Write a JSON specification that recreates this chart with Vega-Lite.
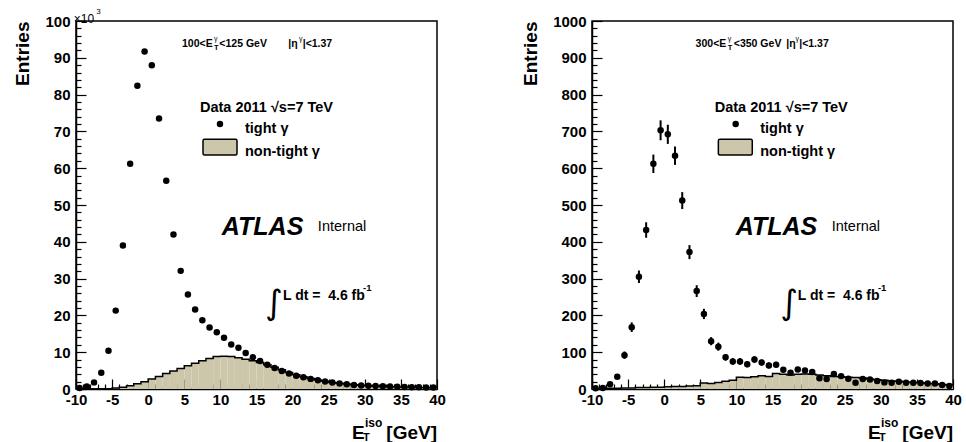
{
"$schema": "https://vega.github.io/schema/vega-lite/v6.json",
"padding": {"left": 13, "top": 7, "right": 5, "bottom": 0},
"spacing": 73,
"config": {
  "font": "Liberation Sans",
  "view": {"stroke": "black", "strokeWidth": 1.5},
  "axis": {"grid": false, "labelColor": "black", "tickColor": "black", "domainColor": "black", "titleColor": "black", "labelFlush": false, "labelOverlap": false, "labelBound": false, "domainWidth": 1.5, "tickWidth": 1.2},
  "text": {"color": "black"}
},
"datasets": {
  "left": [
    {"x": -9.5, "lo": -10, "hi": -9, "tight": 0.3, "nontight": 0.0},
    {"x": -8.5, "lo": -9, "hi": -8, "tight": 0.7, "nontight": 0.0},
    {"x": -7.5, "lo": -8, "hi": -7, "tight": 1.8, "nontight": 0.02},
    {"x": -6.5, "lo": -7, "hi": -6, "tight": 4.4, "nontight": 0.05},
    {"x": -5.5, "lo": -6, "hi": -5, "tight": 10.4, "nontight": 0.1},
    {"x": -4.5, "lo": -5, "hi": -4, "tight": 21.3, "nontight": 0.25},
    {"x": -3.5, "lo": -4, "hi": -3, "tight": 39.0, "nontight": 0.5},
    {"x": -2.5, "lo": -3, "hi": -2, "tight": 61.2, "nontight": 0.9},
    {"x": -1.5, "lo": -2, "hi": -1, "tight": 82.4, "nontight": 1.4},
    {"x": -0.5, "lo": -1, "hi": 0, "tight": 91.7, "nontight": 2.0},
    {"x": 0.5, "lo": 0, "hi": 1, "tight": 88.0, "nontight": 2.7},
    {"x": 1.5, "lo": 1, "hi": 2, "tight": 73.5, "nontight": 3.4},
    {"x": 2.5, "lo": 2, "hi": 3, "tight": 56.6, "nontight": 4.2},
    {"x": 3.5, "lo": 3, "hi": 4, "tight": 42.0, "nontight": 4.9},
    {"x": 4.5, "lo": 4, "hi": 5, "tight": 32.1, "nontight": 5.6},
    {"x": 5.5, "lo": 5, "hi": 6, "tight": 25.7, "nontight": 6.3},
    {"x": 6.5, "lo": 6, "hi": 7, "tight": 21.6, "nontight": 7.0},
    {"x": 7.5, "lo": 7, "hi": 8, "tight": 18.7, "nontight": 7.7},
    {"x": 8.5, "lo": 8, "hi": 9, "tight": 16.7, "nontight": 8.3},
    {"x": 9.5, "lo": 9, "hi": 10, "tight": 15.4, "nontight": 8.8},
    {"x": 10.5, "lo": 10, "hi": 11, "tight": 13.9, "nontight": 8.9},
    {"x": 11.5, "lo": 11, "hi": 12, "tight": 12.1, "nontight": 8.8},
    {"x": 12.5, "lo": 12, "hi": 13, "tight": 11.2, "nontight": 8.5},
    {"x": 13.5, "lo": 13, "hi": 14, "tight": 9.8, "nontight": 8.1},
    {"x": 14.5, "lo": 14, "hi": 15, "tight": 8.6, "nontight": 7.7},
    {"x": 15.5, "lo": 15, "hi": 16, "tight": 7.6, "nontight": 7.2},
    {"x": 16.5, "lo": 16, "hi": 17, "tight": 6.6, "nontight": 6.6},
    {"x": 17.5, "lo": 17, "hi": 18, "tight": 5.7, "nontight": 5.9},
    {"x": 18.5, "lo": 18, "hi": 19, "tight": 4.9, "nontight": 5.2},
    {"x": 19.5, "lo": 19, "hi": 20, "tight": 4.2, "nontight": 4.5},
    {"x": 20.5, "lo": 20, "hi": 21, "tight": 3.6, "nontight": 3.9},
    {"x": 21.5, "lo": 21, "hi": 22, "tight": 3.2, "nontight": 3.35},
    {"x": 22.5, "lo": 22, "hi": 23, "tight": 2.75, "nontight": 2.85},
    {"x": 23.5, "lo": 23, "hi": 24, "tight": 2.4, "nontight": 2.45},
    {"x": 24.5, "lo": 24, "hi": 25, "tight": 2.05, "nontight": 2.1},
    {"x": 25.5, "lo": 25, "hi": 26, "tight": 1.75, "nontight": 1.8},
    {"x": 26.5, "lo": 26, "hi": 27, "tight": 1.5, "nontight": 1.55},
    {"x": 27.5, "lo": 27, "hi": 28, "tight": 1.3, "nontight": 1.33},
    {"x": 28.5, "lo": 28, "hi": 29, "tight": 1.1, "nontight": 1.15},
    {"x": 29.5, "lo": 29, "hi": 30, "tight": 0.98, "nontight": 1.0},
    {"x": 30.5, "lo": 30, "hi": 31, "tight": 0.88, "nontight": 0.88},
    {"x": 31.5, "lo": 31, "hi": 32, "tight": 0.8, "nontight": 0.78},
    {"x": 32.5, "lo": 32, "hi": 33, "tight": 0.72, "nontight": 0.69},
    {"x": 33.5, "lo": 33, "hi": 34, "tight": 0.65, "nontight": 0.62},
    {"x": 34.5, "lo": 34, "hi": 35, "tight": 0.6, "nontight": 0.56},
    {"x": 35.5, "lo": 35, "hi": 36, "tight": 0.55, "nontight": 0.5},
    {"x": 36.5, "lo": 36, "hi": 37, "tight": 0.5, "nontight": 0.46},
    {"x": 37.5, "lo": 37, "hi": 38, "tight": 0.46, "nontight": 0.42},
    {"x": 38.5, "lo": 38, "hi": 39, "tight": 0.43, "nontight": 0.39},
    {"x": 39.5, "lo": 39, "hi": 40, "tight": 0.4, "nontight": 0.36}
  ],
  "right": [
    {"x": -9.5, "lo": -10, "hi": -9, "tight": 2, "err": 1.5, "nontight": 1},
    {"x": -8.5, "lo": -9, "hi": -8, "tight": 3, "err": 2, "nontight": 1},
    {"x": -7.5, "lo": -8, "hi": -7, "tight": 13, "err": 4, "nontight": 2},
    {"x": -6.5, "lo": -7, "hi": -6, "tight": 33, "err": 6, "nontight": 2},
    {"x": -5.5, "lo": -6, "hi": -5, "tight": 92, "err": 10, "nontight": 3},
    {"x": -4.5, "lo": -5, "hi": -4, "tight": 168, "err": 13, "nontight": 3},
    {"x": -3.5, "lo": -4, "hi": -3, "tight": 305, "err": 17, "nontight": 4},
    {"x": -2.5, "lo": -3, "hi": -2, "tight": 432, "err": 21, "nontight": 4},
    {"x": -1.5, "lo": -2, "hi": -1, "tight": 612, "err": 25, "nontight": 5},
    {"x": -0.5, "lo": -1, "hi": 0, "tight": 703, "err": 27, "nontight": 5},
    {"x": 0.5, "lo": 0, "hi": 1, "tight": 692, "err": 26, "nontight": 6},
    {"x": 1.5, "lo": 1, "hi": 2, "tight": 634, "err": 25, "nontight": 7},
    {"x": 2.5, "lo": 2, "hi": 3, "tight": 512, "err": 23, "nontight": 7},
    {"x": 3.5, "lo": 3, "hi": 4, "tight": 372, "err": 19, "nontight": 8},
    {"x": 4.5, "lo": 4, "hi": 5, "tight": 266, "err": 16, "nontight": 9},
    {"x": 5.5, "lo": 5, "hi": 6, "tight": 204, "err": 14, "nontight": 16},
    {"x": 6.5, "lo": 6, "hi": 7, "tight": 130, "err": 11, "nontight": 15},
    {"x": 7.5, "lo": 7, "hi": 8, "tight": 115, "err": 11, "nontight": 18},
    {"x": 8.5, "lo": 8, "hi": 9, "tight": 86, "err": 9, "nontight": 21},
    {"x": 9.5, "lo": 9, "hi": 10, "tight": 75, "err": 9, "nontight": 24},
    {"x": 10.5, "lo": 10, "hi": 11, "tight": 75, "err": 9, "nontight": 32},
    {"x": 11.5, "lo": 11, "hi": 12, "tight": 67, "err": 8, "nontight": 31},
    {"x": 12.5, "lo": 12, "hi": 13, "tight": 80, "err": 9, "nontight": 33},
    {"x": 13.5, "lo": 13, "hi": 14, "tight": 72, "err": 8, "nontight": 36},
    {"x": 14.5, "lo": 14, "hi": 15, "tight": 64, "err": 8, "nontight": 34},
    {"x": 15.5, "lo": 15, "hi": 16, "tight": 66, "err": 8, "nontight": 42},
    {"x": 16.5, "lo": 16, "hi": 17, "tight": 52, "err": 7, "nontight": 40},
    {"x": 17.5, "lo": 17, "hi": 18, "tight": 44, "err": 7, "nontight": 38},
    {"x": 18.5, "lo": 18, "hi": 19, "tight": 53, "err": 7, "nontight": 40},
    {"x": 19.5, "lo": 19, "hi": 20, "tight": 50, "err": 7, "nontight": 41},
    {"x": 20.5, "lo": 20, "hi": 21, "tight": 46, "err": 7, "nontight": 40},
    {"x": 21.5, "lo": 21, "hi": 22, "tight": 29, "err": 5, "nontight": 38},
    {"x": 22.5, "lo": 22, "hi": 23, "tight": 27, "err": 5, "nontight": 36},
    {"x": 23.5, "lo": 23, "hi": 24, "tight": 41, "err": 6, "nontight": 34},
    {"x": 24.5, "lo": 24, "hi": 25, "tight": 35, "err": 6, "nontight": 33},
    {"x": 25.5, "lo": 25, "hi": 26, "tight": 28, "err": 5, "nontight": 32},
    {"x": 26.5, "lo": 26, "hi": 27, "tight": 17, "err": 4, "nontight": 31},
    {"x": 27.5, "lo": 27, "hi": 28, "tight": 27, "err": 5, "nontight": 30},
    {"x": 28.5, "lo": 28, "hi": 29, "tight": 26, "err": 5, "nontight": 27},
    {"x": 29.5, "lo": 29, "hi": 30, "tight": 22, "err": 5, "nontight": 25},
    {"x": 30.5, "lo": 30, "hi": 31, "tight": 18, "err": 4, "nontight": 24},
    {"x": 31.5, "lo": 31, "hi": 32, "tight": 17, "err": 4, "nontight": 22},
    {"x": 32.5, "lo": 32, "hi": 33, "tight": 20, "err": 4, "nontight": 21},
    {"x": 33.5, "lo": 33, "hi": 34, "tight": 17, "err": 4, "nontight": 19},
    {"x": 34.5, "lo": 34, "hi": 35, "tight": 17, "err": 4, "nontight": 18},
    {"x": 35.5, "lo": 35, "hi": 36, "tight": 16, "err": 4, "nontight": 17},
    {"x": 36.5, "lo": 36, "hi": 37, "tight": 15, "err": 4, "nontight": 15},
    {"x": 37.5, "lo": 37, "hi": 38, "tight": 15, "err": 4, "nontight": 14},
    {"x": 38.5, "lo": 38, "hi": 39, "tight": 11, "err": 3, "nontight": 12},
    {"x": 39.5, "lo": 39, "hi": 40, "tight": 8, "err": 3, "nontight": 11}
  ]
},
"hconcat": [
  {
    "width": 361, "height": 368,
    "data": {"name": "left"},
    "resolve": {"axis": {"x": "independent", "y": "independent"}},
    "layer": [
      {"mark": {"type": "rect", "fill": "#ccc6aa"},
       "encoding": {
         "x": {"field": "lo", "type": "quantitative", "scale": {"domain": [-10, 40], "nice": false, "zero": false},
               "axis": {"orient": "bottom", "values": [-9,-8,-7,-6,-4,-3,-2,-1,1,2,3,4,6,7,8,9,11,12,13,14,16,17,18,19,21,22,23,24,26,27,28,29,31,32,33,34,36,37,38,39], "labels": false, "domain": false, "tickSize": -5, "title": null}},
         "x2": {"field": "hi"},
         "y": {"field": "nontight", "type": "quantitative", "scale": {"domain": [0, 100], "nice": false},
               "axis": {"orient": "left", "values": [2,4,6,8,12,14,16,18,22,24,26,28,32,34,36,38,42,44,46,48,52,54,56,58,62,64,66,68,72,74,76,78,82,84,86,88,92,94,96,98], "labels": false, "domain": false, "tickSize": -5, "title": null}},
         "y2": {"datum": 0}
       }},
      {"mark": {"type": "line", "interpolate": "step-before", "color": "black", "strokeWidth": 1.5},
       "encoding": {"x": {"field": "hi", "type": "quantitative", "axis": null}, "y": {"field": "nontight", "type": "quantitative", "axis": null}}},
      {"mark": {"type": "point", "filled": true, "color": "black", "size": 42, "opacity": 1},
       "encoding": {
         "x": {"field": "x", "type": "quantitative",
               "axis": {"orient": "bottom", "values": [-10,-5,0,5,10,15,20,25,30,35,40], "labelExpr": "datum.value + ''", "tickSize": -10, "labelFontSize": 15, "labelFontWeight": "bold", "labelPadding": 13, "title": null}},
         "y": {"field": "tight", "type": "quantitative",
               "axis": {"orient": "left", "values": [0,10,20,30,40,50,60,70,80,90,100], "labelExpr": "datum.value + ''", "tickSize": -10, "labelFontSize": 15, "labelFontWeight": "bold", "labelPadding": 16, "title": "Entries", "titleFontSize": 19, "titleFontWeight": "bold", "titleAnchor": "end", "titlePadding": 12}}
       }},
      {"data": {"values": [{}]}, "mark": {"type": "text", "text": "×10", "align": "left", "fontSize": 12},
       "encoding": {"x": {"datum": -10.3, "type": "quantitative", "axis": null}, "y": {"datum": 100.6, "type": "quantitative", "axis": null}}},
      {"data": {"values": [{}]}, "mark": {"type": "text", "text": "3", "align": "left", "fontSize": 8},
       "encoding": {"x": {"datum": -7.2, "type": "quantitative", "axis": null}, "y": {"datum": 102.5, "type": "quantitative", "axis": null}}},
      {"data": {"values": [{}]}, "mark": {"type": "text", "text": "100<E", "align": "left", "fontSize": 10.5, "fontWeight": "bold"},
       "encoding": {"x": {"datum": 4.68, "type": "quantitative", "axis": null}, "y": {"datum": 93.75, "type": "quantitative", "axis": null}}},
      {"data": {"values": [{}]}, "mark": {"type": "text", "text": "γ", "align": "left", "fontSize": 7},
       "encoding": {"x": {"datum": 9.1, "type": "quantitative", "axis": null}, "y": {"datum": 95.1, "type": "quantitative", "axis": null}}},
      {"data": {"values": [{}]}, "mark": {"type": "text", "text": "T", "align": "left", "fontSize": 7.5, "fontWeight": "bold"},
       "encoding": {"x": {"datum": 9.1, "type": "quantitative", "axis": null}, "y": {"datum": 92.7, "type": "quantitative", "axis": null}}},
      {"data": {"values": [{}]}, "mark": {"type": "text", "text": "<125 GeV", "align": "left", "fontSize": 10.5, "fontWeight": "bold"},
       "encoding": {"x": {"datum": 9.85, "type": "quantitative", "axis": null}, "y": {"datum": 93.75, "type": "quantitative", "axis": null}}},
      {"data": {"values": [{}]}, "mark": {"type": "text", "text": "|η", "align": "left", "fontSize": 10.5, "fontWeight": "bold"},
       "encoding": {"x": {"datum": 19.4, "type": "quantitative", "axis": null}, "y": {"datum": 93.75, "type": "quantitative", "axis": null}}},
      {"data": {"values": [{}]}, "mark": {"type": "text", "text": "γ", "align": "left", "fontSize": 7},
       "encoding": {"x": {"datum": 20.9, "type": "quantitative", "axis": null}, "y": {"datum": 95.1, "type": "quantitative", "axis": null}}},
      {"data": {"values": [{}]}, "mark": {"type": "text", "text": "|<1.37", "align": "left", "fontSize": 10.5, "fontWeight": "bold"},
       "encoding": {"x": {"datum": 21.4, "type": "quantitative", "axis": null}, "y": {"datum": 93.75, "type": "quantitative", "axis": null}}},
      {"data": {"values": [{}]}, "mark": {"type": "text", "text": "Data 2011 √s=7 TeV", "align": "left", "fontSize": 14.5, "fontWeight": "bold"},
       "encoding": {"x": {"datum": 7.17, "type": "quantitative", "axis": null}, "y": {"datum": 76.4, "type": "quantitative", "axis": null}}},
      {"data": {"values": [{}]}, "mark": {"type": "point", "filled": true, "color": "black", "size": 42, "opacity": 1},
       "encoding": {"x": {"datum": 9.94, "type": "quantitative", "axis": null}, "y": {"datum": 72.0, "type": "quantitative", "axis": null}}},
      {"data": {"values": [{}]}, "mark": {"type": "text", "text": "tight γ", "align": "left", "fontSize": 14.5, "fontWeight": "bold"},
       "encoding": {"x": {"datum": 13.4, "type": "quantitative", "axis": null}, "y": {"datum": 70.6, "type": "quantitative", "axis": null}}},
      {"data": {"values": [{}]}, "mark": {"type": "rect", "fill": "#ccc6aa", "stroke": "black", "strokeWidth": 1.5, "cornerRadius": 1.5},
       "encoding": {"x": {"datum": 7.59, "type": "quantitative", "axis": null}, "x2": {"datum": 12.3}, "y": {"datum": 67.9, "type": "quantitative", "axis": null}, "y2": {"datum": 63.6}}},
      {"data": {"values": [{}]}, "mark": {"type": "text", "text": "non-tight γ", "align": "left", "fontSize": 14.5, "fontWeight": "bold"},
       "encoding": {"x": {"datum": 13.4, "type": "quantitative", "axis": null}, "y": {"datum": 64.4, "type": "quantitative", "axis": null}}},
      {"data": {"values": [{}]}, "mark": {"type": "text", "text": "ATLAS", "align": "left", "fontSize": 25, "fontWeight": "bold", "fontStyle": "italic"},
       "encoding": {"x": {"datum": 10.2, "type": "quantitative", "axis": null}, "y": {"datum": 44.0, "type": "quantitative", "axis": null}}},
      {"data": {"values": [{}]}, "mark": {"type": "text", "text": "Internal", "align": "left", "fontSize": 14.5},
       "encoding": {"x": {"datum": 23.5, "type": "quantitative", "axis": null}, "y": {"datum": 44.0, "type": "quantitative", "axis": null}}},
      {"data": {"values": [{}]}, "mark": {"type": "text", "text": "∫", "align": "left", "fontSize": 34, "font": "DejaVu Sans"},
       "encoding": {"x": {"datum": 16.2, "type": "quantitative", "axis": null}, "y": {"datum": 23.0, "type": "quantitative", "axis": null}}},
      {"data": {"values": [{}]}, "mark": {"type": "text", "text": "L dt =\u00a0 4.6 fb", "align": "left", "fontSize": 14, "fontWeight": "bold"},
       "encoding": {"x": {"datum": 18.67, "type": "quantitative", "axis": null}, "y": {"datum": 25.3, "type": "quantitative", "axis": null}}},
      {"data": {"values": [{}]}, "mark": {"type": "text", "text": "-1", "align": "left", "fontSize": 9.5, "fontWeight": "bold"},
       "encoding": {"x": {"datum": 29.75, "type": "quantitative", "axis": null}, "y": {"datum": 27.4, "type": "quantitative", "axis": null}}},
      {"data": {"values": [{}]}, "mark": {"type": "text", "text": "E", "align": "left", "fontSize": 19, "fontWeight": "bold"},
       "encoding": {"x": {"datum": 28.23, "type": "quantitative", "axis": null}, "y": {"datum": -12.0, "type": "quantitative", "axis": null}}},
      {"data": {"values": [{}]}, "mark": {"type": "text", "text": "T", "align": "left", "fontSize": 11, "fontWeight": "bold"},
       "encoding": {"x": {"datum": 29.75, "type": "quantitative", "axis": null}, "y": {"datum": -13.2, "type": "quantitative", "axis": null}}},
      {"data": {"values": [{}]}, "mark": {"type": "text", "text": "iso", "align": "left", "fontSize": 12, "fontWeight": "bold"},
       "encoding": {"x": {"datum": 30.03, "type": "quantitative", "axis": null}, "y": {"datum": -9.2, "type": "quantitative", "axis": null}}},
      {"data": {"values": [{}]}, "mark": {"type": "text", "text": "[GeV]", "align": "right", "fontSize": 19, "fontWeight": "bold"},
       "encoding": {"x": {"datum": 40, "type": "quantitative", "axis": null}, "y": {"datum": -12.0, "type": "quantitative", "axis": null}}}
    ]
  },
  {
    "width": 361, "height": 368,
    "data": {"name": "right"},
    "resolve": {"axis": {"x": "independent", "y": "independent"}},
    "layer": [
      {"mark": {"type": "rect", "fill": "#ccc6aa"},
       "encoding": {
         "x": {"field": "lo", "type": "quantitative", "scale": {"domain": [-10, 40], "nice": false, "zero": false},
               "axis": {"orient": "bottom", "values": [-9,-8,-7,-6,-4,-3,-2,-1,1,2,3,4,6,7,8,9,11,12,13,14,16,17,18,19,21,22,23,24,26,27,28,29,31,32,33,34,36,37,38,39], "labels": false, "domain": false, "tickSize": -5, "title": null}},
         "x2": {"field": "hi"},
         "y": {"field": "nontight", "type": "quantitative", "scale": {"domain": [0, 1000], "nice": false},
               "axis": {"orient": "left", "values": [20,40,60,80,120,140,160,180,220,240,260,280,320,340,360,380,420,440,460,480,520,540,560,580,620,640,660,680,720,740,760,780,820,840,860,880,920,940,960,980], "labels": false, "domain": false, "tickSize": -5, "title": null}},
         "y2": {"datum": 0}
       }},
      {"mark": {"type": "line", "interpolate": "step-before", "color": "black", "strokeWidth": 1.5},
       "encoding": {"x": {"field": "hi", "type": "quantitative", "axis": null}, "y": {"field": "nontight", "type": "quantitative", "axis": null}}},
      {"mark": {"type": "errorbar", "color": "black", "thickness": 2},
       "encoding": {"x": {"field": "x", "type": "quantitative", "axis": null}, "y": {"field": "tight", "type": "quantitative", "axis": null}, "yError": {"field": "err"}}},
      {"mark": {"type": "point", "filled": true, "color": "black", "size": 42, "opacity": 1},
       "encoding": {
         "x": {"field": "x", "type": "quantitative",
               "axis": {"orient": "bottom", "values": [-10,-5,0,5,10,15,20,25,30,35,40], "labelExpr": "datum.value + ''", "tickSize": -10, "labelFontSize": 15, "labelFontWeight": "bold", "labelPadding": 13, "title": null}},
         "y": {"field": "tight", "type": "quantitative",
               "axis": {"orient": "left", "values": [0,100,200,300,400,500,600,700,800,900,1000], "labelExpr": "datum.value + ''", "tickSize": -10, "labelFontSize": 15, "labelFontWeight": "bold", "labelPadding": 16, "title": "Entries", "titleFontSize": 19, "titleFontWeight": "bold", "titleAnchor": "end", "titlePadding": 12}}
       }},
      {"data": {"values": [{}]}, "mark": {"type": "text", "text": "300<E", "align": "left", "fontSize": 10.5, "fontWeight": "bold"},
       "encoding": {"x": {"datum": 4.35, "type": "quantitative", "axis": null}, "y": {"datum": 937.5, "type": "quantitative", "axis": null}}},
      {"data": {"values": [{}]}, "mark": {"type": "text", "text": "γ", "align": "left", "fontSize": 7},
       "encoding": {"x": {"datum": 8.8, "type": "quantitative", "axis": null}, "y": {"datum": 951, "type": "quantitative", "axis": null}}},
      {"data": {"values": [{}]}, "mark": {"type": "text", "text": "T", "align": "left", "fontSize": 7.5, "fontWeight": "bold"},
       "encoding": {"x": {"datum": 8.8, "type": "quantitative", "axis": null}, "y": {"datum": 927, "type": "quantitative", "axis": null}}},
      {"data": {"values": [{}]}, "mark": {"type": "text", "text": "<350 GeV", "align": "left", "fontSize": 10.5, "fontWeight": "bold"},
       "encoding": {"x": {"datum": 9.64, "type": "quantitative", "axis": null}, "y": {"datum": 937.5, "type": "quantitative", "axis": null}}},
      {"data": {"values": [{}]}, "mark": {"type": "text", "text": "|η", "align": "left", "fontSize": 10.5, "fontWeight": "bold"},
       "encoding": {"x": {"datum": 16.9, "type": "quantitative", "axis": null}, "y": {"datum": 937.5, "type": "quantitative", "axis": null}}},
      {"data": {"values": [{}]}, "mark": {"type": "text", "text": "γ", "align": "left", "fontSize": 7},
       "encoding": {"x": {"datum": 18.2, "type": "quantitative", "axis": null}, "y": {"datum": 951, "type": "quantitative", "axis": null}}},
      {"data": {"values": [{}]}, "mark": {"type": "text", "text": "|<1.37", "align": "left", "fontSize": 10.5, "fontWeight": "bold"},
       "encoding": {"x": {"datum": 18.7, "type": "quantitative", "axis": null}, "y": {"datum": 937.5, "type": "quantitative", "axis": null}}},
      {"data": {"values": [{}]}, "mark": {"type": "text", "text": "Data 2011 √s=7 TeV", "align": "left", "fontSize": 14.5, "fontWeight": "bold"},
       "encoding": {"x": {"datum": 7.0, "type": "quantitative", "axis": null}, "y": {"datum": 764, "type": "quantitative", "axis": null}}},
      {"data": {"values": [{}]}, "mark": {"type": "point", "filled": true, "color": "black", "size": 42, "opacity": 1},
       "encoding": {"x": {"datum": 9.9, "type": "quantitative", "axis": null}, "y": {"datum": 720, "type": "quantitative", "axis": null}}},
      {"data": {"values": [{}]}, "mark": {"type": "text", "text": "tight γ", "align": "left", "fontSize": 14.5, "fontWeight": "bold"},
       "encoding": {"x": {"datum": 13.3, "type": "quantitative", "axis": null}, "y": {"datum": 706, "type": "quantitative", "axis": null}}},
      {"data": {"values": [{}]}, "mark": {"type": "rect", "fill": "#ccc6aa", "stroke": "black", "strokeWidth": 1.5, "cornerRadius": 1.5},
       "encoding": {"x": {"datum": 7.5, "type": "quantitative", "axis": null}, "x2": {"datum": 12.2}, "y": {"datum": 679, "type": "quantitative", "axis": null}, "y2": {"datum": 636}}},
      {"data": {"values": [{}]}, "mark": {"type": "text", "text": "non-tight γ", "align": "left", "fontSize": 14.5, "fontWeight": "bold"},
       "encoding": {"x": {"datum": 13.3, "type": "quantitative", "axis": null}, "y": {"datum": 644, "type": "quantitative", "axis": null}}},
      {"data": {"values": [{}]}, "mark": {"type": "text", "text": "ATLAS", "align": "left", "fontSize": 25, "fontWeight": "bold", "fontStyle": "italic"},
       "encoding": {"x": {"datum": 9.9, "type": "quantitative", "axis": null}, "y": {"datum": 440, "type": "quantitative", "axis": null}}},
      {"data": {"values": [{}]}, "mark": {"type": "text", "text": "Internal", "align": "left", "fontSize": 14.5},
       "encoding": {"x": {"datum": 23.2, "type": "quantitative", "axis": null}, "y": {"datum": 440, "type": "quantitative", "axis": null}}},
      {"data": {"values": [{}]}, "mark": {"type": "text", "text": "∫", "align": "left", "fontSize": 34, "font": "DejaVu Sans"},
       "encoding": {"x": {"datum": 16.1, "type": "quantitative", "axis": null}, "y": {"datum": 230, "type": "quantitative", "axis": null}}},
      {"data": {"values": [{}]}, "mark": {"type": "text", "text": "L dt =\u00a0 4.6 fb", "align": "left", "fontSize": 14, "fontWeight": "bold"},
       "encoding": {"x": {"datum": 18.5, "type": "quantitative", "axis": null}, "y": {"datum": 253, "type": "quantitative", "axis": null}}},
      {"data": {"values": [{}]}, "mark": {"type": "text", "text": "-1", "align": "left", "fontSize": 9.5, "fontWeight": "bold"},
       "encoding": {"x": {"datum": 29.6, "type": "quantitative", "axis": null}, "y": {"datum": 274, "type": "quantitative", "axis": null}}},
      {"data": {"values": [{}]}, "mark": {"type": "text", "text": "E", "align": "left", "fontSize": 19, "fontWeight": "bold"},
       "encoding": {"x": {"datum": 28.23, "type": "quantitative", "axis": null}, "y": {"datum": -120, "type": "quantitative", "axis": null}}},
      {"data": {"values": [{}]}, "mark": {"type": "text", "text": "T", "align": "left", "fontSize": 11, "fontWeight": "bold"},
       "encoding": {"x": {"datum": 29.75, "type": "quantitative", "axis": null}, "y": {"datum": -132, "type": "quantitative", "axis": null}}},
      {"data": {"values": [{}]}, "mark": {"type": "text", "text": "iso", "align": "left", "fontSize": 12, "fontWeight": "bold"},
       "encoding": {"x": {"datum": 30.03, "type": "quantitative", "axis": null}, "y": {"datum": -92, "type": "quantitative", "axis": null}}},
      {"data": {"values": [{}]}, "mark": {"type": "text", "text": "[GeV]", "align": "right", "fontSize": 19, "fontWeight": "bold"},
       "encoding": {"x": {"datum": 40, "type": "quantitative", "axis": null}, "y": {"datum": -120, "type": "quantitative", "axis": null}}}
    ]
  }
]
}
